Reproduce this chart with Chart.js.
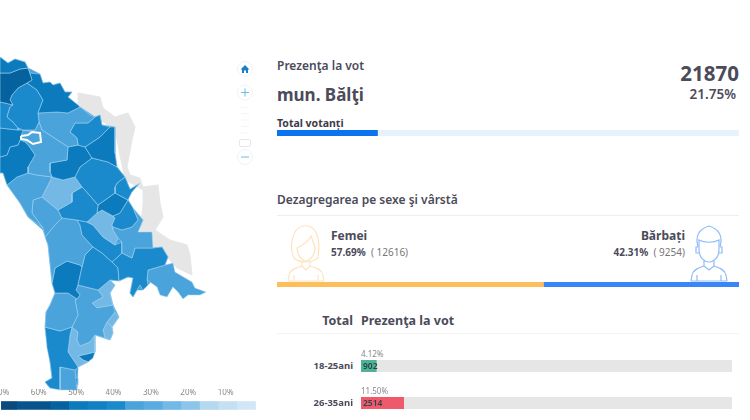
<!DOCTYPE html>
<html>
<head>
<meta charset="utf-8">
<script src="https://cdn.jsdelivr.net/npm/chart.js@4"></script>
<style>
  html, body { margin: 0; padding: 0; background: #fff; width: 750px; height: 420px; overflow: hidden; }
  body { position: relative; font-family: "Noto Sans", sans-serif; color: #4b4b5a; }
  canvas { position: absolute; display: block; }
  .t { position: absolute; white-space: nowrap; line-height: 1; transform: translateY(-50%); }
  .r { transform: translate(-100%, -50%); }
  .line { position: absolute; height: 1px; background: #eeeeee; }
  .grey { font-weight: 400; color: #777; }
  svg { position: absolute; overflow: visible; }
</style>
</head>
<body>
<canvas id="mapChart" style="left:0;top:0"></canvas>
<canvas id="legendChart" style="left:-38px;top:389px"></canvas>

<svg style="left:0;top:0" width="265" height="170" fill="none">
  <circle cx="245" cy="69" r="7.5" stroke="#eef3f7" fill="#fff"/>
  <path d="M240.5 69.5 L245 65 L249.5 69.5 H248 V73 H246 V70.5 H244 V73 H242 V69.5 Z" fill="#1a7fc4"/>
  <circle cx="245" cy="92.5" r="7.5" stroke="#eef3f7" fill="#fff"/>
  <path d="M241 92.5 H249 M245 88.5 V96.5" stroke="#74b8e6"/>
  <path d="M241 107.5 H249 M241 113.5 H249 M241 120 H249 M241 126.5 H249 M241 133 H249" stroke="#f3f5f7"/>
  <rect x="239.5" y="139.5" width="11" height="7" rx="1.5" stroke="#e4e8ec" fill="#fff"/>
  <circle cx="245" cy="157" r="7.5" stroke="#eef3f7" fill="#fff"/>
  <path d="M241 157 H249" stroke="#74b8e6"/>
</svg>

<div class="t" style="left:277px;top:66px;font-size:12px;font-weight:600">Prezenţa la vot</div>
<div class="t" style="left:277px;top:94px;font-size:17px;font-weight:700">mun. Bălţi</div>
<div class="t r" style="left:739px;top:73px;font-size:20.5px;font-weight:700">21870</div>
<div class="t r" style="left:736px;top:95px;font-size:13.5px;font-weight:600">21.75%</div>
<div class="t" style="left:277px;top:123px;font-size:10.5px;font-weight:700;color:#3c3c48">Total votanți</div>
<canvas id="totalChart" style="left:277px;top:130px"></canvas>

<div class="t" style="left:277px;top:200px;font-size:12px;font-weight:600">Dezagregarea pe sexe şi vârstă</div>
<div class="line" style="left:277px;top:215px;width:462px"></div>

<svg style="left:287px;top:225px" width="38" height="57" fill="none" stroke="#ffe3bf" stroke-width="1.2">
  <path d="M7 33 C2 22 5 3 16 1 C28 -1 34 10 31 33 C27 36 22 37 19 37 C15 37 10 36 7 33 Z"/>
  <path d="M10 23 C14 21 21 17 24 11 C26 16 27 20 28 23 C28 30 23 36 19 36 C15 36 10 30 10 23 Z"/>
  <path d="M15 36 V41 L19 45 L23 41 V36 M15 41 C8 43 3 45 2 50 L1 56 M23 41 C30 43 35 45 36 50 L37 56 M7 50 V56 M31 50 V56 M1 56 H37"/>
</svg>
<div class="t" style="left:331px;top:236px;font-size:12px;font-weight:700">Femei</div>
<div class="t" style="left:331px;top:252px;font-size:10px;font-weight:700">57.69% <span class="grey">&nbsp;( 12616)</span></div>

<svg style="left:690px;top:226px" width="38" height="56" fill="none" stroke="#8fbcf8" stroke-width="1.2">
  <path d="M8 21 C5 10 9 3 19 0 C29 3 33 10 30 21 M8 21 H6 V27 H9 M30 21 H32 V27 H29"/>
  <path d="M9 14 C14 17 24 17 29 14 V24 C29 31 24 36 19 36 C14 36 9 31 9 24 Z"/>
  <path d="M14 35 V40 C8 42 3 44 2 49 L1 55 M24 35 V40 C30 42 35 44 36 49 L37 55 M14 40 L19 44 L24 40 M7 49 V55 M31 49 V55 M1 55 H37"/>
</svg>
<div class="t r" style="left:685px;top:236px;font-size:12px;font-weight:700">Bărbați</div>
<div class="t r" style="left:685px;top:252px;font-size:10px;font-weight:700">42.31% <span class="grey">&nbsp;( 9254)</span></div>
<canvas id="genderChart" style="left:277px;top:282px"></canvas>

<div class="t r" style="left:353px;top:321px;font-size:12.5px;font-weight:700">Total</div>
<div class="t" style="left:361px;top:321px;font-size:12.5px;font-weight:700">Prezenţa la vot</div>
<div class="line" style="left:277px;top:333px;width:462px;background:#f4f4f4"></div>

<div id="ageRows"></div>

<script>
// ---------------- Data ----------------
const totalTurnoutPct = [21.75];
const genderLabels = ["Femei", "Bărbați"];
const genderPct = [57.69, 42.31];

const ageLabels = ["18-25ani", "26-35ani"];
const agePct = [4.12, 11.50];
const ageVotes = [902, 2514];
const ageColors = ["#4cb396", "#ee5a6b"];

const legendEdges = [70, 66, 57, 52, 47, 42, 37, 32, 27, 22, 17, 12, 7, 2];
const legendColors = ["#0a4a7c", "#06548b", "#05629f", "#0b7bbd", "#1280c4", "#1a8acc", "#4aa3da", "#5aabdf", "#74b8e6", "#8dc5ea", "#b4d8f0", "#c5e0f2", "#d2e7f6"];

// map outlines, in map units, with the turnout read from each region's shade
const transnistria = [[78,93],[100,97],[103,108],[115,117],[128,113],[135,127],[132,140],[127,167],[130,175],[140,178],[143,187],[158,185],[160,203],[163,217],[155,230],[170,240],[187,245],[190,255],[192,275],[177,268],[168,258],[153,248],[140,232],[143,205],[143,190],[125,180],[115,130],[78,105]];
const silhouette = [[0,57],[8,63],[15,59],[25,62],[28,68],[40,74],[43,83],[50,82],[53,85],[60,83],[65,92],[72,92],[68,97],[80,107],[95,117],[100,115],[102,125],[115,127],[115,153],[117,167],[125,177],[130,189],[128,200],[133,208],[143,220],[138,232],[153,248],[162,247],[168,257],[165,265],[148,285],[143,290],[137,290],[133,297],[130,293],[133,278],[128,277],[119,281],[110,280],[115,285],[110,293],[113,305],[119,317],[112,327],[113,333],[110,340],[95,335],[95,352],[88,362],[78,367],[77,390],[50,388],[45,382],[52,378],[50,362],[45,328],[46,312],[50,305],[55,293],[52,283],[48,245],[43,230],[28,217],[20,203],[7,185],[3,173],[0,173]];

const briceni = [[0,57],[8,63],[15,59],[25,62],[28,68],[20,69],[10,73],[0,73]];
const edinet = [[0,73],[10,73],[20,69],[28,68],[32,80],[27,83],[18,88],[12,95],[10,100],[13,105],[5,103],[0,102]];
const ocnita = [[28,68],[29,73],[40,74],[43,83],[50,82],[53,85],[60,83],[65,92],[72,92],[68,97],[78,105],[80,107],[68,113],[57,112],[38,113],[43,100],[37,90],[27,83],[32,80]];
const donduseni = [[27,83],[37,90],[43,100],[38,113],[39,122],[35,130],[23,130],[18,128],[13,122],[7,117],[10,107],[13,105],[10,100],[12,95],[18,88]];
const riscani = [[0,102],[5,103],[13,105],[10,107],[7,117],[13,122],[18,128],[18,130],[0,128]];
const glodeniN = [[0,128],[18,130],[23,130],[21,136],[21,139],[20,140],[18,145],[10,147],[7,155],[0,157]];
const glodeni = [[0,157],[7,155],[10,147],[18,145],[20,140],[25,142],[28,145],[35,155],[28,167],[28,173],[17,177],[7,185],[3,173],[0,173]];
const singerei = [[23,130],[35,130],[39,122],[42,130],[68,147],[67,160],[50,163],[50,172],[52,177],[37,175],[28,173],[28,167],[35,155],[28,145],[25,142],[41,142],[40,133]];
const soroca = [[38,113],[57,112],[68,113],[80,107],[90,115],[95,117],[88,123],[75,123],[70,132],[77,138],[78,145],[68,147],[42,130],[39,122]];
const rezina = [[95,117],[100,115],[102,125],[110,127],[100,137],[85,147],[78,145],[77,138],[70,132],[75,123],[88,123]];
const dubasariN = [[110,127],[115,127],[115,153],[117,167],[108,162],[92,158],[85,147],[100,137]];
const telenesti = [[78,145],[85,147],[92,158],[80,167],[75,177],[63,180],[52,177],[50,172],[50,163],[67,160],[68,147]];
const orhei = [[92,158],[108,162],[117,167],[125,177],[117,183],[115,187],[115,193],[98,205],[85,190],[82,187],[75,177],[80,167]];
const dubasari = [[117,183],[125,177],[130,189],[140,183],[132,192],[128,200],[115,193],[115,187]];
const ungheni = [[7,185],[17,177],[28,173],[37,175],[52,177],[42,197],[33,200],[32,213],[43,228],[28,217],[20,203]];
const calarasi = [[52,177],[63,180],[75,177],[82,187],[72,193],[72,202],[58,210],[42,197]];
const straseni = [[82,187],[85,190],[98,205],[97,213],[87,222],[77,220],[62,218],[58,210],[72,202],[72,193]];
const criuleni = [[98,205],[115,193],[128,200],[120,213],[113,216],[102,210],[97,213]];
const chisinau = [[113,216],[120,213],[128,200],[133,208],[138,220],[132,227],[122,230],[113,227],[112,225],[115,218]];
const anenii = [[133,208],[143,220],[138,232],[152,232],[153,248],[135,248],[132,258],[122,253],[122,242],[118,238],[113,230],[113,227],[122,230],[132,227],[138,220]];
const ialoveni = [[87,222],[97,213],[102,210],[107,213],[115,218],[112,225],[113,230],[118,238],[115,245],[103,237],[93,225]];
const hincestiN = [[77,220],[87,222],[93,225],[103,237],[115,245],[122,242],[122,253],[112,262],[102,253],[93,247],[82,235],[80,225]];
const nisporeni = [[33,200],[42,197],[58,210],[62,218],[55,225],[45,237],[43,228],[32,213]];
const hincesti = [[45,237],[55,225],[62,218],[77,220],[80,225],[82,235],[93,247],[85,255],[82,267],[80,265],[67,261],[55,268],[52,283],[48,245]];
const causeni = [[112,262],[122,253],[132,258],[135,248],[153,248],[162,247],[168,257],[165,265],[155,268],[148,270],[147,280],[148,285],[143,290],[140,285],[137,290],[133,297],[130,293],[133,278],[128,277],[119,281],[118,268]];
const stefanVoda = [[165,265],[173,263],[175,272],[192,282],[195,288],[206,292],[200,295],[188,295],[183,299],[178,292],[173,287],[167,297],[160,295],[157,287],[147,280],[148,270],[155,268]];
const cimislia = [[85,255],[93,247],[102,253],[112,262],[118,268],[119,281],[110,280],[98,290],[78,285],[82,267]];
const leova = [[52,283],[55,268],[67,261],[80,265],[82,267],[78,285],[76,290],[80,295],[77,299],[68,293],[55,293]];
const cantemir = [[55,293],[68,293],[77,299],[75,300],[78,315],[72,327],[60,331],[45,327],[46,312],[50,305]];
const basarabeasca = [[78,285],[98,290],[103,297],[92,303],[97,308],[113,305],[115,312],[107,322],[103,330],[105,338],[95,335],[90,342],[80,346],[77,340],[78,332],[72,327],[78,315],[75,300],[77,299],[80,295],[76,290]];
const lightA = [[98,290],[110,280],[115,285],[110,293],[113,305],[97,308],[92,303],[103,297]];
const lightB = [[115,312],[119,317],[115,323],[112,327],[107,322]];
const lightC = [[103,330],[107,322],[112,327],[113,333],[110,340],[105,338]];
const cahul = [[45,327],[60,331],[72,327],[70,335],[68,352],[78,367],[75,370],[60,367],[60,390],[50,388],[45,382],[52,378],[50,362],[47,348]];
const gagauzia = [[70,335],[72,327],[78,332],[77,340],[80,346],[90,342],[95,335],[95,352],[78,356],[83,360],[88,362],[78,367],[68,352]];
const taraclia = [[78,356],[95,352],[93,358],[88,362],[83,360]];
const vulcanesti = [[60,367],[75,370],[77,390],[60,390]];
const ceadir = [[72,378],[78,378],[78,385],[72,385]];
const balti = [[21,136],[28,135],[32,132],[40,133],[41,142],[33,144],[27,140],[21,139]];

const regions = [briceni, edinet, ocnita, donduseni, riscani, glodeniN, glodeni, singerei, soroca, rezina, dubasariN, telenesti, orhei, dubasari, ungheni, calarasi, straseni, criuleni, chisinau, anenii, ialoveni, hincestiN, nisporeni, hincesti, causeni, stefanVoda, cimislia, leova, cantemir, basarabeasca, lightA, lightB, lightC, cahul, gagauzia, taraclia, vulcanesti, ceadir];
const regionTurnout = [49, 55, 49, 40, 40, 49, 49, 35, 35, 40, 49, 49, 40, 40, 35, 25, 40, 49, 40, 35, 25, 40, 35, 35, 40, 35, 40, 49, 35, 35, 25, 25, 25, 40, 25, 49, 35, 49];
const baltiTurnout = 35;

// ---------------- Helpers ----------------
Chart.defaults.animation = false;
Chart.defaults.responsive = false;
Chart.defaults.plugins.legend.display = false;
Chart.defaults.plugins.tooltip.enabled = false;

function colorFor(value) {
    for (let i = 0; i < legendColors.length; i++) {
        if (value <= legendEdges[i] && value > legendEdges[i + 1]) return legendColors[i];
    }
    return legendColors[legendColors.length - 1];
}

function regionDataset(points, fillColor, borderColor, borderWidth) {
    const closed = points.concat([points[0]]);
    return {
        data: closed.map(p => ({ x: p[0], y: p[1] })),
        showLine: true,
        fill: "shape",
        tension: 0,
        pointRadius: 0,
        backgroundColor: fillColor,
        borderColor: borderColor,
        borderWidth: borderWidth
    };
}

function sizeCanvas(canvas, w, h) {
    canvas.width = w;
    canvas.height = h;
    canvas.style.width = w + "px";
    canvas.style.height = h + "px";
}

// one thin horizontal bar, 0-100, stacked segments on an optional track
function barChart(canvas, w, h, segments, trackColor) {
    sizeCanvas(canvas, w, h);
    const datasets = segments.map(s => ({
        data: [s.value],
        backgroundColor: s.color,
        barThickness: h,
        stack: "a"
    }));
    const rest = 100 - segments.reduce((a, s) => a + s.value, 0);
    if (trackColor && rest > 0) {
        datasets.push({ data: [rest], backgroundColor: trackColor, barThickness: h, stack: "a" });
    }
    return new Chart(canvas, {
        type: "bar",
        data: { labels: [""], datasets: datasets },
        options: {
            indexAxis: "y",
            layout: { padding: 0 },
            scales: {
                x: { display: false, stacked: true, min: 0, max: 100 },
                y: { display: false, stacked: true }
            }
        }
    });
}

// ---------------- Map ----------------
const mapCanvas = document.getElementById("mapChart");
sizeCanvas(mapCanvas, 265, 410);
// chart.js paints the first dataset last, so the top layer goes first
const mapDatasets = [regionDataset(balti, colorFor(baltiTurnout), "#ffffff", 2)];
regions.forEach((points, i) => {
    mapDatasets.push(regionDataset(points, colorFor(regionTurnout[i]), "rgba(170,215,243,0.8)", 0.7));
});
mapDatasets.push(regionDataset(silhouette, "#4aa3da", "#4aa3da", 0.5));
mapDatasets.push(regionDataset(transnistria, "#e6e6e6", "#e6e6e6", 1));

new Chart(mapCanvas, {
    type: "scatter",
    data: { datasets: mapDatasets },
    options: {
        layout: { padding: 0 },
        scales: {
            x: { display: false, type: "linear", min: 0, max: 265 },
            y: { display: false, type: "linear", min: 0, max: 410, reverse: true }
        }
    }
});

// ---------------- Legend scale ----------------
const legendCanvas = document.getElementById("legendChart");
sizeCanvas(legendCanvas, 303, 22);
new Chart(legendCanvas, {
    type: "bar",
    data: {
        labels: [""],
        datasets: legendColors.map((color, i) => ({
            data: [[legendEdges[i], legendEdges[i + 1]]],
            backgroundColor: color,
            barThickness: 8,
            grouped: false
        }))
    },
    options: {
        indexAxis: "y",
        layout: { padding: 0 },
        scales: {
            x: {
                type: "linear",
                position: "top",
                reverse: true,
                min: 0,
                max: 80,
                grid: { display: false, drawTicks: false },
                border: { display: false },
                ticks: {
                    stepSize: 10,
                    autoSkip: false,
                    maxRotation: 0,
                    padding: 2,
                    color: "#8a8a8a",
                    font: { family: "Noto Sans", size: 8 },
                    callback: v => (v === 0 || v === 80) ? "" : v + "%"
                }
            },
            y: { display: false }
        }
    }
});

// ---------------- Right column bars ----------------
barChart(document.getElementById("totalChart"), 462, 6, [{ value: totalTurnoutPct[0], color: "#0b72f0" }], "#e8f2fb");
barChart(document.getElementById("genderChart"), 462, 5, [
    { value: genderPct[0], color: "#ffbe5c" },
    { value: genderPct[1], color: "#3b86f7" }
]);

// age rows: label, percent above the bar, bar, votes on the bar
const ageRows = document.getElementById("ageRows");
ageLabels.forEach((label, i) => {
    const barTop = 360 + i * 37;
    const row = document.createElement("div");
    row.innerHTML =
        `<div class="t" style="left:361px;top:${barTop - 6}px;font-size:8px;color:#8a8a8a">${agePct[i].toFixed(2)}%</div>` +
        `<div class="t r" style="left:353px;top:${barTop + 6}px;font-size:9.5px;font-weight:700">${label}</div>` +
        `<canvas id="age${i}" style="left:361px;top:${barTop}px"></canvas>` +
        `<div class="t" style="left:363px;top:${barTop + 6}px;font-size:8.5px;font-weight:600;color:#33404a">${ageVotes[i]}</div>`;
    ageRows.appendChild(row);
    barChart(document.getElementById("age" + i), 371, 12, [{ value: agePct[i], color: ageColors[i] }], "#e6e6e6");
});
</script>
</body>
</html>
